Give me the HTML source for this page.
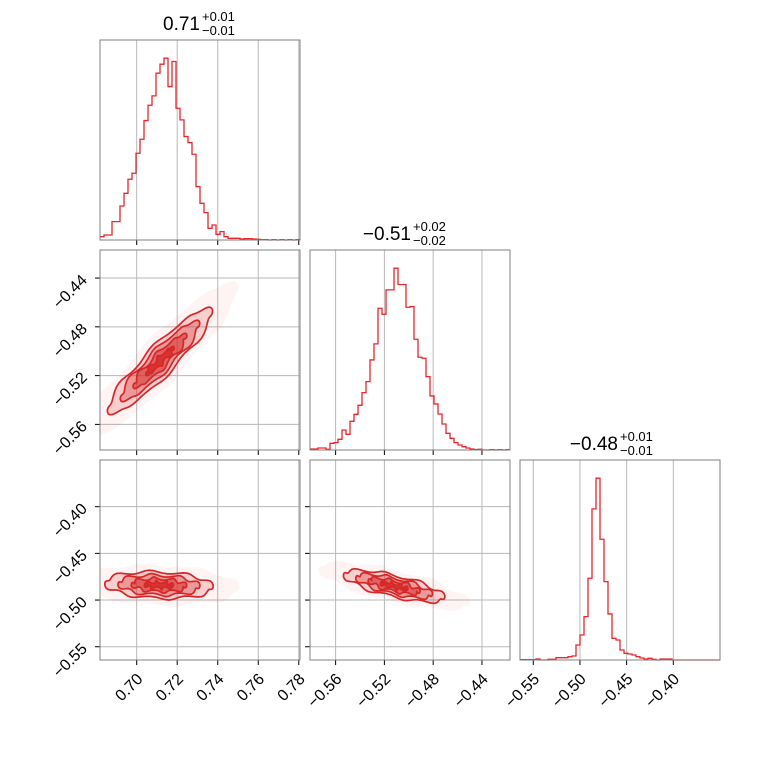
<!DOCTYPE html>
<html><head><meta charset="utf-8"><style>
html,body{margin:0;padding:0;background:#fff;}
svg{display:block;font-family:"Liberation Sans","DejaVu Sans",sans-serif;}
</style></head><body>
<svg id="c" width="760" height="760" viewBox="0 0 760 760"></svg>
<script>
// ---- data ----
const paramRanges = [[0.6819,0.7806],[-0.5810,-0.4170],[-0.5642,-0.3500]];
const paramTicks = [[0.70,0.72,0.74,0.76,0.78],[-0.56,-0.52,-0.48,-0.44],[-0.55,-0.50,-0.45,-0.40]];
const tickLabels = [["0.70","0.72","0.74","0.76","0.78"],["\u22120.56","\u22120.52","\u22120.48","\u22120.44"],["\u22120.55","\u22120.50","\u22120.45","\u22120.40"]];
const hist1 = [10,15,15,55,55,102,140,182,200,260,302,358,404,432,500,527,545,460,535,395,360,310,292,257,160,110,82,35,45,17,25,10,5,5,5,3,4,4,3,2,1,1,0,1,0,1,0,1,0,1];
const hist2 = [3,3,6,6,2,20,22,32,60,47,86,107,134,172,205,270,318,425,407,480,480,545,496,496,428,430,332,278,275,220,162,138,108,78,50,35,22,15,10,6,3,1,2,0,0,1,0,1,0,1];
const hist3 = [1,1,1,1,3,0,0,2,2,7,7,7,10,12,45,75,130,245,453,545,362,235,138,65,60,30,20,18,15,10,6,3,5,2,0,3,3,3,0,0,0,0,0,0,0,0,0,0,0,0];
const titleMain = ["0.71","\u22120.51","\u22120.48"];
const titleUp = ["+0.01","+0.02","+0.01"];
const titleDn = ["\u22120.01","\u22120.02","\u22120.01"];
// 2D gaussian summaries: [xParam, yParam, cx, cy, sx, sy, rho]
const pairs = [[0,1,0.7115,-0.5080,0.0128,0.0215,0.92],[0,2,0.7110,-0.4840,0.0132,0.0072,-0.15],[1,2,-0.5120,-0.4850,0.0205,0.0085,-0.72]];
const sigmaLevels = [0.5,1,1.5,2];

// ---- drawing ----
const NS="http://www.w3.org/2000/svg";
const svg=document.getElementById('c');
function mk(tag,attrs,parent){const e=document.createElementNS(NS,tag);for(const k in attrs)e.setAttribute(k,attrs[k]);(parent||svg).appendChild(e);return e;}
const S=200, X0=100, Y0=40, GAP=210;
function px(p,col,v){const r=paramRanges[p];return X0+GAP*col+(v-r[0])/(r[1]-r[0])*S;}
function py(p,row,v){const r=paramRanges[p];return Y0+GAP*row+S-(v-r[0])/(r[1]-r[0])*S;}
const RED="#e8262b", CRED="#d62728";

function panel(row,col,isHist){
  const g=mk('g',{});
  
  
  const x0=X0+GAP*col,y0=Y0+GAP*row;
  mk('rect',{x:x0,y:y0,width:S,height:S,fill:'#fff'},g);
  paramTicks[col].forEach(t=>{const x=px(col,col,t);if(x>x0&&x<x0+S){const l=mk('line',{x1:x,x2:x,y1:y0,y2:y0+S,stroke:'#b8b8b8','stroke-width':1},g);}
    const tk=mk('line',{x1:x,x2:x,y1:y0+S,y2:y0+S+5,stroke:'#000','stroke-width':1},g);});
  if(!isHist){paramTicks[row].forEach(t=>{const y=py(row,row,t);if(y>y0&&y<y0+S){const l=mk('line',{x1:x0,x2:x0+S,y1:y,y2:y,stroke:'#b8b8b8','stroke-width':1},g);}
    const tk=mk('line',{x1:x0-5,x2:x0,y1:y,y2:y,stroke:'#000','stroke-width':1},g);});}
  return g;
}
function frame(row,col){const f=mk('rect',{x:X0+GAP*col,y:Y0+GAP*row,width:S,height:S,fill:'none',stroke:'#808080','stroke-width':1});}

const hists=[hist1,hist2,hist3];
const titleEnd=[0,1,-2];
for(let i=0;i<3;i++){
  const g=panel(i,i,true);
  const h=hists[i],n=h.length,mx=Math.max(...h)*1.1;
  const x0=X0+GAP*i,y0=Y0+GAP*i;
  let d='';
  for(let b=0;b<n;b++){const xa=x0+b*S/n,xb=x0+(b+1)*S/n,y=y0+S-h[b]/mx*S;d+=(b==0?'M'+xa+','+y:'L'+xa+','+y)+'L'+xb+','+y;}
  const p=mk('path',{d:d,fill:'none',stroke:RED,'stroke-width':1.3},g);
  
  
  frame(i,i);
  const ex=x0+S/2+titleEnd[i],ty=y0-10;
  const t=mk('text',{x:ex,y:ty,'font-size':19,'text-anchor':'end',fill:'#000'});
  t.textContent=titleMain[i];
  
  
  const su=mk('text',{x:ex+2,y:ty-9,'font-size':13,fill:'#000'});su.textContent=titleUp[i];
  
  
  const sd=mk('text',{x:ex+2,y:ty+5,'font-size':13,fill:'#000'});sd.textContent=titleDn[i];
  
  
}
pairs.forEach(pr=>{
  const [a,b,cx,cy,sx,sy,rho]=pr;
  const col=a,row=b;
  const g=panel(row,col,false);
  const x0=X0+GAP*col,y0=Y0+GAP*row;
  const cid='clip'+row+col;
  const cp=mk('clipPath',{id:cid},g);mk('rect',{x:x0,y:y0,width:S,height:S},cp);
  const gg=mk('g',{'clip-path':'url(#'+cid+')'},g);
  function ell(r){let d='';const q=Math.sqrt(1-rho*rho);for(let k=0;k<=72;k++){const t=k/72*2*Math.PI;
    const vx=cx+sx*r*Math.cos(t),vy=cy+sy*r*(rho*Math.cos(t)+q*Math.sin(t));
    const X=px(a,col,vx)+Math.sin(7*t)*1.5,Y=py(b,row,vy)+Math.cos(9*t)*1.5;d+=(k?'L':'M')+X.toFixed(1)+','+Y.toFixed(1);}return d+'Z';}
  const halo=mk('path',{d:ell(3.0),fill:'rgba(232,38,43,0.05)',stroke:'none'},gg);
  
  
  const alphas=[0.18,0.32,0.5,0.8];
  for(let k=sigmaLevels.length-1;k>=0;k--){
    const p=mk('path',{d:ell(sigmaLevels[k]),fill:'rgba(214,39,40,'+(alphas[3-k])+')',stroke:CRED,'stroke-width':1.7},gg);
    
    
  }
  frame(row,col);
});
paramTicks[0].forEach((t,j)=>{addBottom(px(0,0,t),tickLabels[0][j]);});
paramTicks[1].forEach((t,j)=>{addBottom(px(1,1,t),tickLabels[1][j]);addLeft(py(1,1,t),tickLabels[1][j]);});
paramTicks[2].forEach((t,j)=>{addBottom(px(2,2,t),tickLabels[2][j]);addLeft(py(2,2,t),tickLabels[2][j]);});
function addBottom(x,s){const ax=x+7,ay=680;const t=mk('text',{x:ax,y:ay,'font-size':16,'text-anchor':'end',transform:'rotate(-45 '+ax+' '+ay+')',fill:'#000'});t.textContent=s;
  }
function addLeft(y,s){const ax=88,ay=y+3;const t=mk('text',{x:ax,y:ay,'font-size':16,'text-anchor':'end',transform:'rotate(-45 '+ax+' '+ay+')',fill:'#000'});t.textContent=s;
  }
</script>
</body></html>
